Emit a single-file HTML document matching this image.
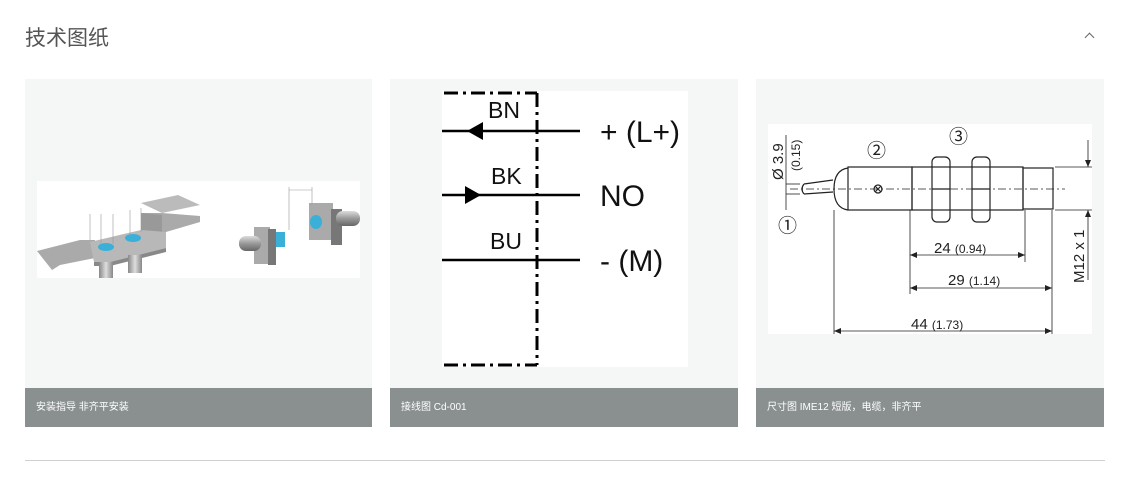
<!DOCTYPE html>
<html><head><meta charset="utf-8"><style>
body{margin:0;width:1127px;height:482px;background:#fff;position:relative;overflow:hidden;font-family:"Liberation Sans","Noto Sans CJK SC",sans-serif}
.h{position:absolute;left:25px;top:22px;font-size:21px;color:#555}
.chev{position:absolute;left:1086px;top:34px;width:6px;height:6px;border-left:1.5px solid #666;border-top:1.5px solid #666;transform:rotate(45deg)}
.card{position:absolute;top:79px;width:347px;height:348px;background:#f5f7f7}
.cap{position:absolute;left:0;bottom:0;width:100%;height:39px;background:#8a9090;color:#fff;font-size:10px;line-height:39px;box-sizing:border-box;padding-left:11px}
.hr{position:absolute;left:25px;top:460px;width:1080px;height:1px;background:#d0d0d0}
svg{position:absolute;left:0;top:0}
</style></head><body>
<div class="h">技术图纸</div><div class="chev"></div>
<div class="card" style="left:25px"><div class="cap">安装指导 非齐平安装</div></div>
<div class="card" style="left:390px;width:348px"><div class="cap">接线图 Cd-001</div></div>
<div class="card" style="left:756px;width:348px"><div class="cap">尺寸图 IME12 短版，电缆，非齐平</div></div>
<div class="hr"></div>
<svg width="1127" height="482" viewBox="0 0 1127 482">
<defs>
<linearGradient id="cy" x1="0" y1="0" x2="0" y2="1"><stop offset="0" stop-color="#ddd"/><stop offset=".5" stop-color="#999"/><stop offset="1" stop-color="#666"/></linearGradient>
<linearGradient id="cx" x1="0" y1="0" x2="1" y2="0"><stop offset="0" stop-color="#888"/><stop offset=".5" stop-color="#ddd"/><stop offset="1" stop-color="#888"/></linearGradient>
</defs>
<!-- mounting image -->
<rect x="37" y="181" width="323" height="97" fill="#fff"/>
<polygon points="141,203 178,195 200,205 162,213" fill="#bbb"/>
<polygon points="141,213 162,213 200,216 200,222 166,232 141,232" fill="#aaa"/>
<polygon points="141,213 141,232 162,232 162,215" fill="#999"/>
<polygon points="37,251 80,240 95,240 95,258 60,265 52,270" fill="#aaa"/>
<polygon points="90,242 141,230 166,232 166,248 110,262 94,262" fill="#b8b8b8"/>
<polygon points="94,262 110,262 166,248 166,252 110,266 94,266" fill="#888"/>
<rect x="99" y="262" width="14" height="16" fill="url(#cx)"/>
<rect x="128" y="255" width="14" height="18" fill="url(#cx)"/>
<ellipse cx="106" cy="247" rx="8" ry="4" fill="#3ab0d8"/>
<ellipse cx="133" cy="238" rx="8" ry="4" fill="#3ab0d8"/>
<g stroke="#999" stroke-width=".6"><line x1="90" y1="214" x2="90" y2="240"/><line x1="101" y1="214" x2="101" y2="244"/><line x1="113" y1="214" x2="113" y2="244"/><line x1="130" y1="210" x2="130" y2="236"/><line x1="141" y1="208" x2="141" y2="232"/></g>
<rect x="254" y="227" width="16" height="37" fill="#aaa"/><rect x="268" y="229" width="8" height="36" fill="#777"/>
<rect x="239" y="236" width="22" height="15" rx="7" fill="url(#cy)"/>
<rect x="276" y="232" width="9" height="15" fill="#3ab0d8"/>
<rect x="309" y="203" width="24" height="37" fill="#aaa"/><rect x="331" y="209" width="11" height="36" fill="#777"/>
<rect x="336" y="211" width="24" height="15" rx="7" fill="url(#cy)"/>
<ellipse cx="316" cy="222" rx="6" ry="7" fill="#3ab0d8"/>
<line x1="289" y1="187" x2="289" y2="230" stroke="#999" stroke-width=".6"/><line x1="312" y1="187" x2="312" y2="205" stroke="#999" stroke-width=".6"/>
<line x1="289" y1="190" x2="312" y2="190" stroke="#999" stroke-width=".6"/>
<!-- wiring -->
<rect x="442" y="91" width="246" height="276" fill="#fff"/>
<g stroke="#000" stroke-width="3" fill="none">
<line x1="444" y1="93" x2="537" y2="93" stroke-dasharray="14,5,3,5"/>
<line x1="444" y1="365" x2="537" y2="365" stroke-dasharray="14,5,3,5"/>
<line x1="537" y1="93" x2="537" y2="365" stroke-dasharray="14,5,3,5"/>
<g stroke-width="2.5"><line x1="442" y1="131" x2="580" y2="131"/><line x1="442" y1="195" x2="580" y2="195"/><line x1="442" y1="260" x2="580" y2="260"/></g>
</g>
<polygon points="467,131 483,122 483,140" fill="#000"/>
<polygon points="481,195 465,186 465,204" fill="#000"/>
<g font-size="23" fill="#111"><text x="488" y="118">BN</text><text x="491" y="184">BK</text><text x="490" y="249">BU</text></g>
<g font-size="30" fill="#111"><text x="600" y="142">+ (L+)</text><text x="600" y="206">NO</text><text x="600" y="271">- (M)</text></g>
<!-- dimension drawing -->
<rect x="768" y="124" width="324" height="210" fill="#fff"/>
<g stroke="#222" stroke-width="1.2" fill="none">
<line x1="790" y1="189" x2="1065" y2="189" stroke-dasharray="8,3,2,3" stroke-width=".8"/>
<path d="M804,184 L833,180 M804,194 L833,192 M804,184 Q800,189 804,194"/>
<path d="M848,168 Q834,170 834,189 Q834,208 848,210"/>
<rect x="848" y="167" width="64" height="43"/>
<rect x="912" y="167" width="111" height="43"/>
<rect x="1023" y="168" width="30" height="41"/>
<rect x="932" y="157" width="18" height="65" rx="5"/><rect x="972" y="157" width="18" height="65" rx="5"/>
<line x1="932" y1="189" x2="950" y2="189"/><line x1="972" y1="189" x2="990" y2="189"/>
<circle cx="878" cy="189" r="4"/><path d="M875,186 L881,192 M881,186 L875,192"/>
<g stroke-width=".8">
<line x1="834" y1="210" x2="834" y2="334"/><line x1="910" y1="210" x2="910" y2="294"/><line x1="1025" y1="210" x2="1025" y2="262"/><line x1="1052" y1="210" x2="1052" y2="334"/>
<line x1="910" y1="255" x2="1025" y2="255"/><line x1="910" y1="288" x2="1052" y2="288"/><line x1="834" y1="331" x2="1052" y2="331"/>
<line x1="1055" y1="167" x2="1092" y2="167"/><line x1="1055" y1="210" x2="1092" y2="210"/>
<line x1="1088" y1="140" x2="1088" y2="167"/><line x1="1088" y1="210" x2="1088" y2="280"/>
<line x1="786" y1="184" x2="800" y2="184"/><line x1="786" y1="194" x2="800" y2="194"/><line x1="786" y1="135" x2="786" y2="210"/>
</g>
</g>
<g fill="#222">
<polygon points="910,255 917,252 917,258"/><polygon points="1025,255 1018,252 1018,258"/>
<polygon points="910,288 917,285 917,291"/><polygon points="1052,288 1045,285 1045,291"/>
<polygon points="834,331 841,328 841,334"/><polygon points="1052,331 1045,328 1045,334"/>
<polygon points="1088,167 1085,160 1091,160"/><polygon points="1088,210 1085,217 1091,217"/>
</g>
<g fill="#222" font-size="15">
<text x="934" y="253">24 <tspan font-size="12">(0.94)</tspan></text>
<text x="948" y="285">29 <tspan font-size="12">(1.14)</tspan></text>
<text x="911" y="329">44 <tspan font-size="12">(1.73)</tspan></text>
<text transform="translate(1084,283) rotate(-90)">M12 x 1</text>
<text transform="translate(783,180) rotate(-90)">Ø 3.9</text>
<text transform="translate(800,171) rotate(-90)" font-size="12">(0.15)</text>
<text x="778" y="232" font-size="19">①</text><text x="867" y="157" font-size="19">②</text><text x="949" y="143" font-size="19">③</text>
</g>
</svg>
</body></html>
